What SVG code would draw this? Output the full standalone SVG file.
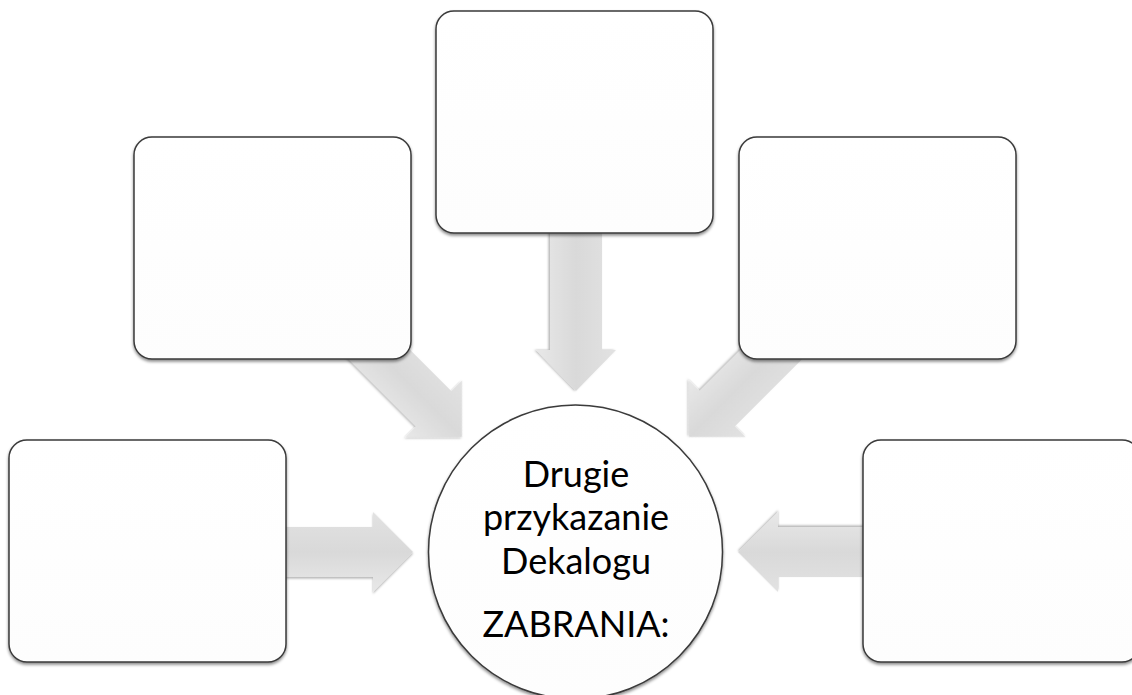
<svg xmlns="http://www.w3.org/2000/svg" width="1132" height="695" viewBox="0 0 1132 695">
  <defs>
    <style>
      .box { fill: url(#boxGrad); stroke: #3a3a3a; stroke-width: 1.5; filter: url(#shadow); }
      .arrow { fill: url(#arrowGrad); filter: url(#ashadow); }
      .label { font-family: "Lato", "Open Sans", sans-serif; font-size: 36px; fill: #000; text-anchor: middle; }
    </style>
    <linearGradient id="boxGrad" x1="0" y1="0" x2="0" y2="1">
      <stop offset="0" stop-color="#ffffff"/>
      <stop offset="1" stop-color="#fdfdfd"/>
    </linearGradient>
    <linearGradient id="arrowGrad" x1="0" y1="0" x2="0" y2="1">
      <stop offset="0" stop-color="#e2e2e2"/>
      <stop offset="0.5" stop-color="#d9d9d9"/>
      <stop offset="1" stop-color="#e8e8e8"/>
    </linearGradient>
    <filter id="shadow" x="-10%" y="-10%" width="120%" height="125%">
      <feDropShadow dx="0" dy="2" stdDeviation="1.5" flood-color="#000" flood-opacity="0.45"/>
    </filter>
    <filter id="ashadow" x="-20%" y="-20%" width="140%" height="140%">
      <feDropShadow dx="0" dy="1.5" stdDeviation="1.2" flood-color="#000" flood-opacity="0.3"/>
    </filter>
  </defs>

  <rect x="0" y="0" width="1132" height="695" fill="#ffffff"/>

  <g id="connectors">
    <path class="arrow" transform="translate(413,552)" d="M -130 -25 L -40 -25 L -40 -40 L 0 0 L -40 40 L -40 25 L -130 25 Z"/>
    <path class="arrow" transform="translate(738,552) rotate(180)" d="M -130 -25 L -40 -25 L -40 -40 L 0 0 L -40 40 L -40 25 L -130 25 Z"/>
    <path class="arrow" transform="translate(576,391) rotate(90)" d="M -165 -26 L -41 -26 L -41 -40 L 0 0 L -41 40 L -41 26 L -165 26 Z"/>
    <path class="arrow" transform="translate(462,437) rotate(45)" d="M -150 -25 L -40 -25 L -40 -40 L 0 0 L -40 40 L -40 25 L -150 25 Z"/>
    <path class="arrow" transform="translate(689,437) rotate(135)" d="M -150 -25 L -40 -25 L -40 -40 L 0 0 L -40 40 L -40 25 L -150 25 Z"/>
  </g>

  <g id="box-top">
    <rect class="box" x="436" y="11" width="277" height="222" rx="18" ry="18"/>
  </g>
  <g id="box-upper-left">
    <rect class="box" x="134" y="137" width="277" height="222" rx="18" ry="18"/>
  </g>
  <g id="box-upper-right">
    <rect class="box" x="739" y="137" width="277" height="222" rx="18" ry="18"/>
  </g>
  <g id="box-lower-left">
    <rect class="box" x="9" y="440" width="277" height="222" rx="18" ry="18"/>
  </g>
  <g id="box-lower-right">
    <rect class="box" x="863" y="440" width="277" height="222" rx="18" ry="18"/>
  </g>

  <g id="center">
    <circle class="box" cx="575.5" cy="552" r="147"/>
    <text class="label" x="576" y="487">Drugie</text>
    <text class="label" x="576" y="530">przykazanie</text>
    <text class="label" x="576" y="574">Dekalogu</text>
    <text class="label" x="576" y="637">ZABRANIA:</text>
  </g>
</svg>
